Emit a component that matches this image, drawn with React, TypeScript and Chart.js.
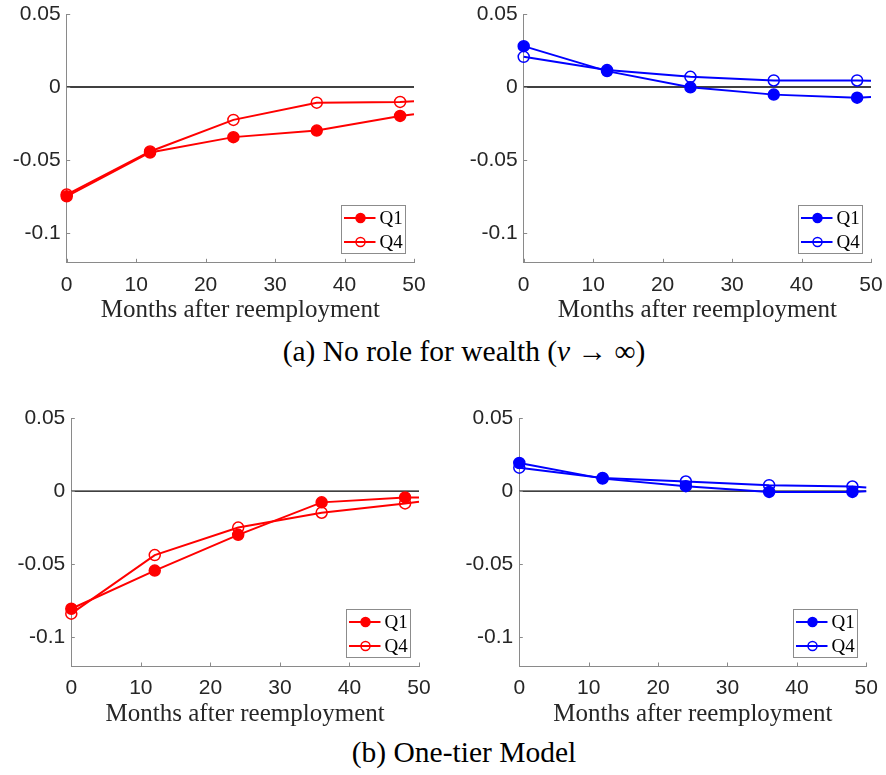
import React, { useEffect, useRef } from 'react';
import { Chart, registerables } from 'chart.js';

Chart.register(...registerables);

// ---- data ----
const months = [0, 12, 24, 36, 48, 50];
const xTicks = [0, 10, 20, 30, 40, 50];
const yTicks = [-0.1, -0.05, 0, 0.05];
const yTickLabels = ['-0.1', '-0.05', '0', '0.05'];
const seriesNames = ['Q1', 'Q4'];
const xAxisTitle = 'Months after reemployment';

// (a) No role for wealth
const noWealthRedQ1 = [-0.0748, -0.0448, -0.0343, -0.0298, -0.0198, -0.0186];
const noWealthRedQ4 = [-0.0736, -0.0441, -0.0225, -0.0107, -0.0102, -0.0098];
const noWealthBlueQ1 = [0.028, 0.0109, -0.0002, -0.0052, -0.0073, -0.0068];
const noWealthBlueQ4 = [0.0207, 0.0116, 0.007, 0.0045, 0.0045, 0.0043];

// (b) One-tier model
const oneTierRedQ1 = [-0.0807, -0.0545, -0.03, -0.0077, -0.0043, -0.0043];
const oneTierRedQ4 = [-0.0841, -0.0439, -0.025, -0.0148, -0.0084, -0.0073];
const oneTierBlueQ1 = [0.0193, 0.0086, 0.0034, -0.0005, -0.0005, -0.0001];
const oneTierBlueQ4 = [0.0161, 0.0091, 0.0066, 0.0041, 0.0032, 0.0025];

const captionA = '(a) No role for wealth (';
const captionB = '(b) One-tier Model';

// ---- styles ----
const AXIS_COLOR = '#8a8a8a';
const TEXT_COLOR = '#262626';
const SANS = '"Liberation Sans", Arial, Helvetica, sans-serif';
const SERIF = '"Liberation Serif", "Times New Roman", serif';
const MARKER_R = 5.5;

type Geom = {
  left: number; top: number; w: number; h: number;
  aL: number; aR: number; aT: number; aB: number; titlePad: number;
};

const tickMarksPlugin = {
  id: 'inwardTicks',
  afterDatasetsDraw(chart: any) {
    const { ctx, chartArea, scales } = chart;
    ctx.save();
    ctx.strokeStyle = AXIS_COLOR;
    ctx.lineWidth = 1;
    ctx.beginPath();
    for (const t of scales.x.ticks) {
      const px = Math.round(scales.x.getPixelForValue(t.value)) + 0.5;
      ctx.moveTo(px, chartArea.bottom);
      ctx.lineTo(px, chartArea.bottom - 3.5);
    }
    for (const t of scales.y.ticks) {
      const py = Math.round(scales.y.getPixelForValue(t.value)) + 0.5;
      ctx.moveTo(chartArea.left, py);
      ctx.lineTo(chartArea.left + 3.5, py);
    }
    ctx.stroke();
    ctx.restore();
  },
};

const boxLegendPlugin = {
  id: 'boxLegend',
  afterDraw(chart: any) {
    const { ctx, chartArea } = chart;
    const w = 64, h = 48, gap = 9;
    const x0 = Math.round(chartArea.right - gap - w) + 0.5;
    const y0 = Math.round(chartArea.bottom - gap - h) + 0.5;
    ctx.save();
    ctx.fillStyle = '#ffffff';
    ctx.fillRect(x0, y0, w, h);
    ctx.strokeStyle = '#8c8c8c';
    ctx.lineWidth = 1;
    ctx.strokeRect(x0, y0, w, h);
    seriesNames.forEach((name, i) => {
      const ds = chart.data.datasets.find((d: any) => d.label === name);
      if (!ds) return;
      const cy = y0 + 12.5 + i * 24;
      ctx.strokeStyle = ds.borderColor;
      ctx.lineWidth = 2;
      ctx.beginPath();
      ctx.moveTo(x0 + 2.5, cy);
      ctx.lineTo(x0 + 34, cy);
      ctx.stroke();
      ctx.beginPath();
      ctx.arc(x0 + 19, cy, 4.5, 0, Math.PI * 2);
      ctx.lineWidth = 1.5;
      if (ds.pointBackgroundColor !== 'rgba(0,0,0,0)') {
        ctx.fillStyle = ds.pointBackgroundColor;
        ctx.fill();
      }
      ctx.stroke();
      ctx.fillStyle = '#000';
      ctx.font = `19px ${SERIF}`;
      ctx.textBaseline = 'middle';
      ctx.textAlign = 'left';
      ctx.fillText(name, x0 + 38, cy + 1);
    });
    ctx.restore();
  },
};

function Panel({ q1, q4, color, g }: { q1: number[]; q4: number[]; color: string; g: Geom }) {
  const ref = useRef<HTMLCanvasElement>(null);
  useEffect(() => {
    const canvas = ref.current!;
    const yW = g.aL - g.left;
    const padTop = g.aT - g.top;
    const padRight = g.left + g.w - g.aR;
    const xH = g.top + g.h - g.aB;
    const radii = months.map((m) => (m <= 48 ? MARKER_R : 0));
    const mk = (vals: number[]) => months.map((m, i) => ({ x: m, y: vals[i] }));
    const chart = new Chart(canvas, {
      type: 'line',
      data: {
        datasets: [
          {
            label: seriesNames[1],
            data: mk(q4),
            borderColor: color,
            backgroundColor: color,
            borderWidth: 2,
            pointRadius: radii,
            pointHoverRadius: 0,
            pointBorderWidth: 1.5,
            pointBorderColor: color,
            pointBackgroundColor: 'rgba(0,0,0,0)',
            tension: 0,
            fill: false,
            clip: false,
          },
          {
            label: seriesNames[0],
            data: mk(q1),
            borderColor: color,
            backgroundColor: color,
            borderWidth: 2,
            pointRadius: radii,
            pointHoverRadius: 0,
            pointBorderWidth: 1.5,
            pointBorderColor: color,
            pointBackgroundColor: color,
            tension: 0,
            fill: false,
            clip: false,
          },
          {
            label: '',
            data: [
              { x: xTicks[0], y: 0 },
              { x: xTicks[xTicks.length - 1], y: 0 },
            ],
            borderColor: '#000000',
            borderWidth: 1.4,
            pointRadius: 0,
            pointHoverRadius: 0,
            fill: false,
          },
        ],
      } as any,
      options: {
        animation: false,
        responsive: false,
        maintainAspectRatio: false,
        events: [],
        layout: { padding: { top: padTop, left: 0, right: padRight, bottom: 0 } },
        plugins: { legend: { display: false }, tooltip: { enabled: false } },
        scales: {
          x: {
            type: 'linear',
            min: xTicks[0],
            max: xTicks[xTicks.length - 1],
            afterBuildTicks: (s: any) => {
              s.ticks = xTicks.map((v) => ({ value: v }));
            },
            afterFit: (s: any) => {
              s.height = xH;
              s.paddingLeft = 0;
              s.paddingRight = 0;
              s.paddingTop = 0;
              s.paddingBottom = 0;
            },
            grid: { display: false, drawTicks: false },
            border: { display: true, color: AXIS_COLOR, width: 1 },
            ticks: {
              color: TEXT_COLOR,
              font: { family: SANS, size: 21 },
              padding: 10,
              maxRotation: 0,
              autoSkip: false,
              callback: (v: any) => String(v),
            },
            title: {
              display: true,
              text: xAxisTitle,
              color: TEXT_COLOR,
              font: { family: SERIF, size: 25 },
              padding: { top: 0, bottom: g.titlePad },
            },
          },
          y: {
            type: 'linear',
            min: -0.12,
            max: 0.05,
            afterBuildTicks: (s: any) => {
              s.ticks = yTicks.map((v) => ({ value: v }));
            },
            afterFit: (s: any) => {
              s.width = yW;
              s.paddingLeft = 0;
              s.paddingRight = 0;
              s.paddingTop = 0;
              s.paddingBottom = 0;
            },
            grid: { display: false, drawTicks: false },
            border: { display: true, color: AXIS_COLOR, width: 1 },
            ticks: {
              color: TEXT_COLOR,
              font: { family: SANS, size: 21 },
              padding: 6,
              autoSkip: false,
              callback: (_v: any, i: number) => yTickLabels[i],
            },
          },
        },
      } as any,
      plugins: [tickMarksPlugin, boxLegendPlugin],
    });
    return () => chart.destroy();
  }, [q1, q4, color, g]);
  return (
    <canvas
      ref={ref}
      width={g.w}
      height={g.h}
      style={{ position: 'absolute', left: g.left, top: g.top, width: g.w, height: g.h }}
    />
  );
}

const G1: Geom = { left: 0, top: 0, w: 443, h: 335, aL: 66.7, aR: 414, aT: 14, aB: 262.3, titlePad: 10 };
const G2: Geom = { left: 443, top: 0, w: 443, h: 335, aL: 523.7, aR: 871, aT: 14, aB: 262.3, titlePad: 10 };
const G3: Geom = { left: 0, top: 400, w: 443, h: 335, aL: 71.3, aR: 419, aT: 418.3, aB: 666, titlePad: 6 };
const G4: Geom = { left: 443, top: 400, w: 443, h: 335, aL: 519.3, aR: 866.3, aT: 418.3, aB: 666, titlePad: 6 };

const captionStyle: React.CSSProperties = {
  position: 'absolute',
  left: 164,
  width: 600,
  textAlign: 'center',
  fontFamily: SERIF,
  fontSize: 29.5,
  lineHeight: '29px',
  color: '#000',
  whiteSpace: 'nowrap',
};

export default function App() {
  return (
    <div style={{ position: 'fixed', left: 0, top: 0, width: 886, height: 775, background: '#fff', overflow: 'hidden' }}>
      <Panel q1={noWealthRedQ1} q4={noWealthRedQ4} color="#ff0000" g={G1} />
      <Panel q1={noWealthBlueQ1} q4={noWealthBlueQ4} color="#0000ff" g={G2} />
      <div style={{ ...captionStyle, top: 337 }}>
        {captionA}
        <i>ν</i>
        {' → ∞)'}
      </div>
      <Panel q1={oneTierRedQ1} q4={oneTierRedQ4} color="#ff0000" g={G3} />
      <Panel q1={oneTierBlueQ1} q4={oneTierBlueQ4} color="#0000ff" g={G4} />
      <div style={{ ...captionStyle, top: 738 }}>{captionB}</div>
    </div>
  );
}
